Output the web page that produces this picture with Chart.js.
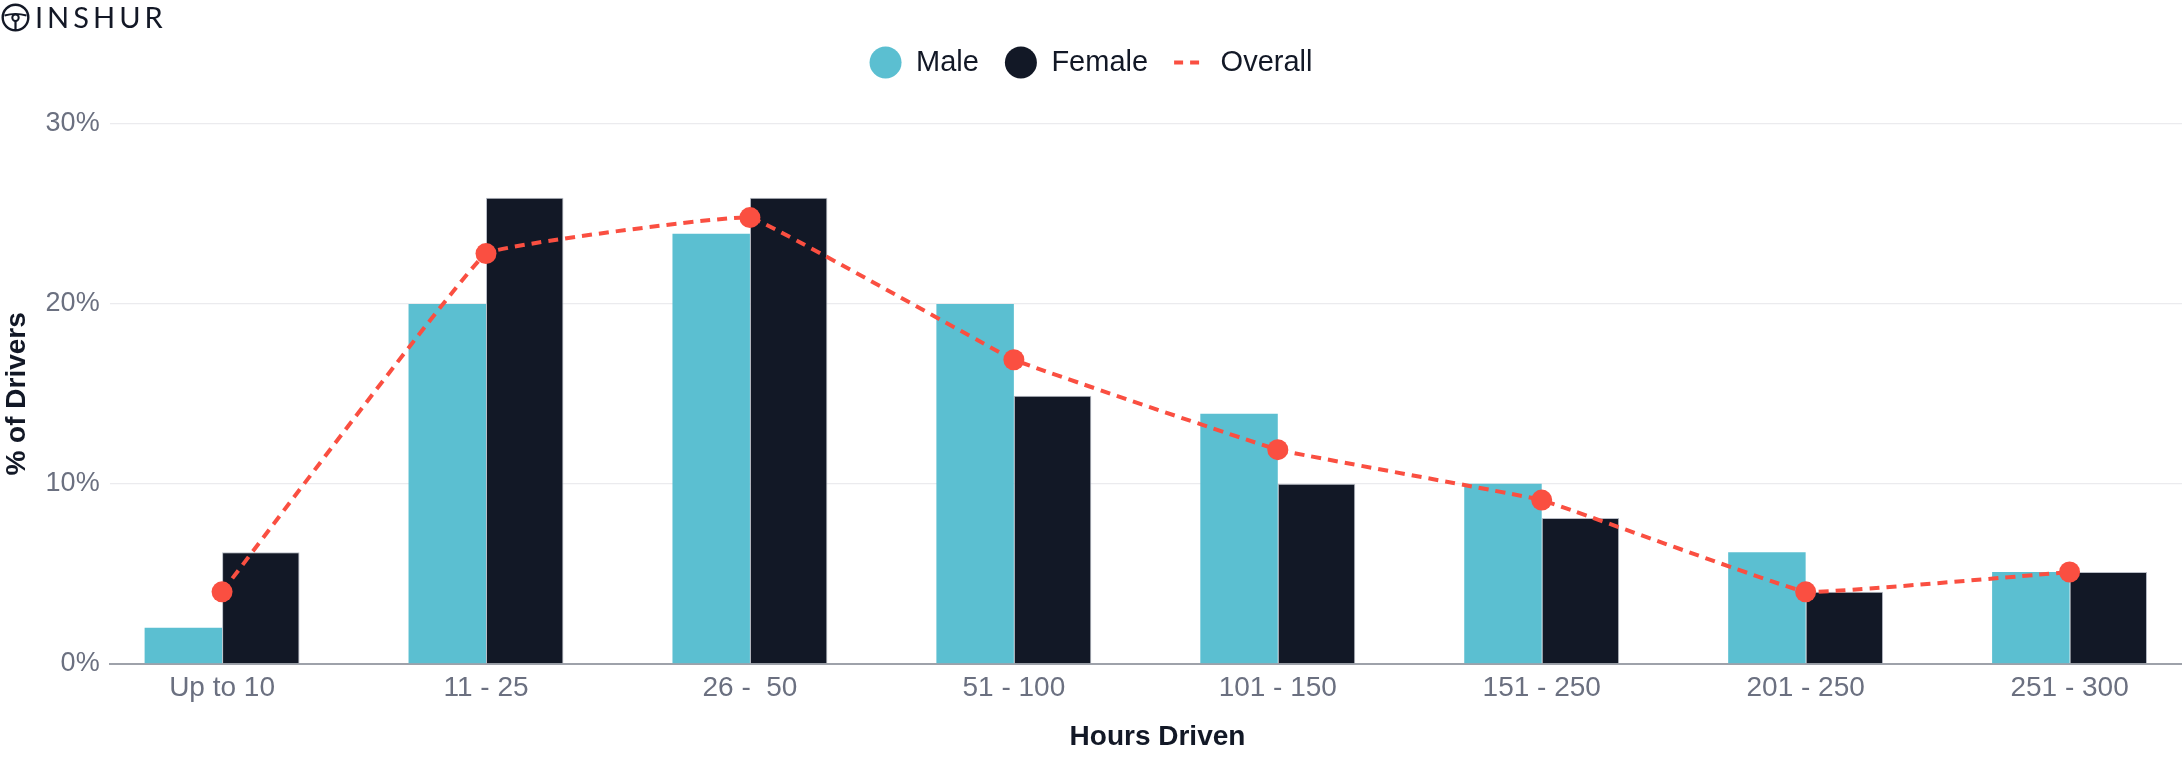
<!DOCTYPE html>
<html>
<head>
<meta charset="utf-8">
<script src="https://cdn.jsdelivr.net/npm/chart.js@4"></script>
<style>
  html, body { margin: 0; padding: 0; background: #fff; }
  #wrap { position: relative; width: 2182px; height: 769px; }
  #logo { position: absolute; left: 1px; top: 2px; display: flex; align-items: center; color: #131826; }
  #logo span { font-family: Lato, 'Liberation Sans', sans-serif; font-size: 29px; letter-spacing: 4px; margin-left: 5px; line-height: 30px; }
</style>
</head>
<body>
<div id="wrap">
  <canvas id="chart" width="2182" height="769"></canvas>
  <div id="logo">
    <svg width="29" height="29" viewBox="0 0 29 29">
      <circle cx="14.5" cy="14.5" r="12.8" fill="none" stroke="#131826" stroke-width="2.4"/>
      <path d="M3.5 12.5 Q14.5 9.5 25.5 12.5" fill="none" stroke="#131826" stroke-width="2.2"/>
      <circle cx="14.5" cy="14.8" r="3.2" fill="none" stroke="#131826" stroke-width="2"/>
      <line x1="14.5" y1="18" x2="14.5" y2="27" stroke="#131826" stroke-width="2.2"/>
    </svg>
    <span>INSHUR</span>
  </div>
</div>
<script>
const categories = ['Up to 10', '11 - 25', '26 -  50', '51 - 100', '101 - 150', '151 - 250', '201 - 250', '251 - 300'];
const male = [2, 20, 23.9, 20, 13.9, 10, 6.2, 5.1];
const female = [6.2, 25.9, 25.9, 14.9, 10, 8.1, 4, 5.1];
const overall = [4, 22.8, 24.8, 16.9, 11.9, 9.1, 4, 5.1];
const yTicks = [0, 10, 20, 30];

const TEAL = '#5bbfd1';
const NAVY = '#121826';
const RED = '#fa4f41';
const GRAY = '#6b7080';

Chart.defaults.font.family = "'Liberation Sans', Arial, sans-serif";

// give the legend some extra room below it
const legendMargin = {
  id: 'legendMargin',
  beforeInit(chart) {
    const fit = chart.legend.fit;
    chart.legend.fit = function () {
      fit.bind(chart.legend)();
      this.height += 37;
    };
  }
};

const toPoints = arr => arr.map((v, i) => ({ x: i, y: v }));

new Chart(document.getElementById('chart'), {
  type: 'bar',
  data: {
    datasets: [
      {
        label: 'Male',
        data: toPoints(male),
        backgroundColor: TEAL,
        borderWidth: 0,
        categoryPercentage: 0.587,
        barPercentage: 1,
        order: 1,
      },
      {
        label: 'Female',
        data: toPoints(female),
        backgroundColor: NAVY,
        borderColor: '#b9bdc6',
        borderWidth: 1,
        categoryPercentage: 0.587,
        barPercentage: 1,
        order: 1,
      },
      {
        type: 'line',
        label: 'Overall',
        data: toPoints(overall),
        borderColor: RED,
        backgroundColor: RED,
        borderWidth: 4,
        borderDash: [10, 7],
        pointRadius: 10.5,
        pointBorderWidth: 0,
        pointBackgroundColor: RED,
        tension: 0.06,
        order: 0,
      },
    ],
  },
  options: {
    responsive: false,
    animation: false,
    layout: { autoPadding: false, padding: { top: 22, left: 0, right: 0, bottom: 0 } },
    plugins: {
      tooltip: { enabled: false },
      legend: {
        position: 'top',
        labels: {
          font: { size: 29 },
          color: NAVY,
          usePointStyle: true,
          pointStyle: 'circle',
          boxHeight: 22.6,
          pointStyleWidth: 32,
          padding: 26,
          sort: (a, b) => a.datasetIndex - b.datasetIndex,
          generateLabels(chart) {
            const items = Chart.defaults.plugins.legend.labels.generateLabels(chart);
            items.forEach(it => {
              if (it.text === 'Overall') {
                it.pointStyle = 'line';
                it.lineDash = [9, 7];
                it.lineWidth = 4;
                it.strokeStyle = RED;
              } else {
                it.lineWidth = 0;
              }
            });
            return items;
          },
        },
      },
    },
    scales: {
      x: {
        type: 'linear',
        offset: false,
        min: -0.426,
        max: 7.426,
        afterBuildTicks(scale) {
          scale.ticks = categories.map((c, i) => ({ value: i }));
        },
        afterFit(scale) {
          // plot runs right to the canvas edge
          scale.paddingLeft = 0;
          scale.paddingRight = 0;
        },
        grid: { display: false, drawTicks: false, offset: false },
        border: { display: true, color: '#9ea2aa', width: 2 },
        ticks: {
          color: GRAY,
          font: { size: 28 },
          padding: 8,
          maxRotation: 0,
          autoSkip: false,
          callback: v => categories[v] ?? '',
        },
        title: {
          display: true,
          text: '   Hours Driven',
          color: NAVY,
          font: { size: 28, weight: 'bold' },
          padding: { top: 7.5, bottom: 14.5 },
        },
      },
      y: {
        min: 0,
        max: 30,
        afterBuildTicks(scale) {
          scale.ticks = yTicks.map(v => ({ value: v }));
        },
        grid: {
          color: c => (c.tick && c.tick.value === 0 ? 'rgba(0,0,0,0)' : '#ebebee'),
          lineWidth: 1.3,
          drawTicks: false,
        },
        border: { display: false },
        ticks: {
          color: GRAY,
          font: { size: 27 },
          padding: 10,
          callback: v => v + '%',
        },
        title: {
          display: true,
          text: '% of Drivers',
          color: NAVY,
          font: { size: 28, weight: 'bold' },
          padding: { top: 0, bottom: 2 },
        },
      },
    },
  },
  plugins: [legendMargin],
});
</script>
</body>
</html>
